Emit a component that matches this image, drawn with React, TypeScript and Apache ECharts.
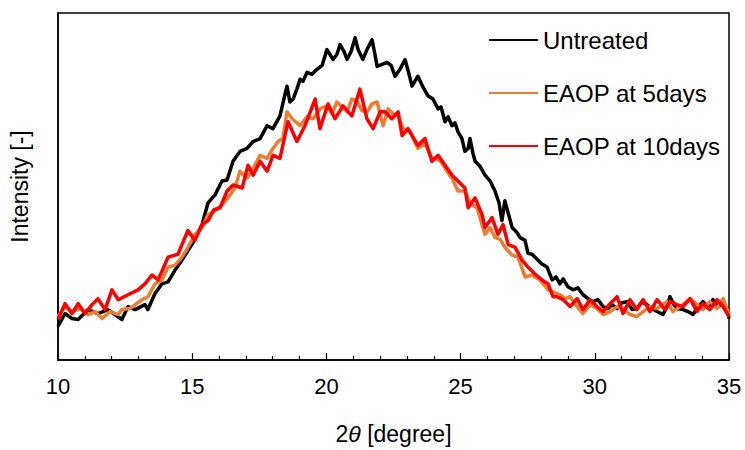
import React, { useEffect, useRef } from "react";
import * as echarts from "echarts";

// 2θ (degree) and intensity (arbitrary units)
const untreatedTheta = [10.00,10.26,10.52,10.75,11.12,11.49,11.86,12.12,12.38,12.61,12.87,13.24,13.35,13.61,13.87,14.10,14.36,14.62,14.99,15.37,15.59,15.85,16.11,16.30,16.52,16.78,17.04,17.27,17.53,17.79,18.01,18.27,18.53,18.64,18.76,18.90,19.02,19.13,19.28,19.46,19.65,19.84,20.02,20.25,20.39,20.51,20.66,20.77,20.92,21.07,21.18,21.36,21.51,21.70,21.81,21.89,22.07,22.26,22.41,22.56,22.74,22.93,23.08,23.19,23.30,23.41,23.60,23.79,23.97,24.16,24.27,24.42,24.53,24.68,24.79,24.90,25.05,25.16,25.28,25.35,25.46,25.54,25.72,25.91,26.10,26.28,26.43,26.54,26.65,26.77,26.92,27.10,27.21,27.40,27.51,27.66,27.85,28.03,28.22,28.41,28.55,28.70,28.82,29.00,29.19,29.37,29.56,29.75,29.93,30.12,30.31,30.49,30.64,30.83,31.01,31.20,31.39,31.57,31.76,31.94,32.13,32.32,32.54,32.69,32.80,32.95,33.06,33.29,33.47,33.66,33.85,34.03,34.22,34.40,34.59,34.78,34.93,35.00];
const untreatedIntensity = [34,47,42,41,51,47,51,46,41,54,51,56,51,67,77,79,91,101,117,137,159,167,181,182,201,211,214,221,224,237,234,247,277,261,264,274,284,282,291,289,294,298,314,304,309,319,312,304,312,326,314,304,314,324,309,297,299,301,298,287,294,304,289,277,282,287,276,267,264,254,256,241,246,237,240,231,224,211,214,224,209,201,196,187,181,171,159,141,161,149,134,129,124,121,108,107,102,97,94,81,84,77,82,74,71,73,66,62,59,61,54,52,56,52,58,59,51,52,59,56,52,49,46,54,64,56,52,51,49,46,54,59,54,61,54,57,52,42];

const eaop5Theta = [10.00,10.26,10.52,10.82,11.12,11.38,11.64,11.94,12.24,12.38,12.68,13.13,13.35,13.61,13.87,14.10,14.36,14.62,14.84,15.10,15.37,15.59,15.85,16.11,16.33,16.59,16.78,17.04,17.27,17.53,17.79,18.01,18.20,18.38,18.53,18.72,19.02,19.28,19.50,19.76,20.02,20.21,20.39,20.58,20.77,20.95,21.14,21.33,21.51,21.70,21.89,22.11,22.30,22.48,22.67,22.85,23.11,23.41,23.67,23.93,24.23,24.49,24.68,24.90,25.16,25.35,25.61,25.91,26.10,26.28,26.47,26.65,26.92,27.14,27.40,27.66,27.96,28.26,28.44,28.70,28.89,29.08,29.34,29.56,29.82,30.08,30.31,30.57,30.83,31.05,31.31,31.57,31.80,32.06,32.32,32.69,32.91,33.18,33.55,33.81,34.03,34.29,34.55,34.78,35.00];
const eaop5Intensity = [44,54,49,52,46,49,42,49,46,51,52,61,64,77,81,94,96,104,114,127,134,147,151,157,164,174,191,184,194,207,204,214,221,224,251,244,237,246,244,254,257,249,261,256,251,264,262,252,251,259,261,237,254,249,247,234,231,214,219,204,202,191,184,171,171,159,154,127,134,124,122,114,106,104,84,86,81,71,69,66,62,64,54,47,56,52,46,49,54,52,46,44,49,54,52,59,49,54,62,56,51,59,52,62,46];

const eaop10Theta = [10.00,10.26,10.52,10.75,11.01,11.27,11.49,11.75,12.01,12.24,12.61,12.98,13.24,13.50,13.73,14.10,14.47,14.84,15.10,15.37,15.59,15.81,16.04,16.30,16.52,16.86,17.08,17.27,17.53,17.79,18.01,18.27,18.57,18.90,19.20,19.58,19.76,20.06,20.32,20.62,20.95,21.25,21.51,21.74,22.00,22.18,22.44,22.67,22.82,23.04,23.41,23.67,23.93,24.16,24.42,24.68,24.90,25.16,25.28,25.54,25.80,25.91,26.17,26.39,26.58,26.77,27.03,27.29,27.51,27.77,28.03,28.26,28.44,28.59,28.82,29.08,29.34,29.56,29.82,30.08,30.31,30.57,30.83,31.05,31.31,31.57,31.80,32.06,32.32,32.62,32.80,33.06,33.29,33.55,33.81,34.03,34.29,34.55,34.78,35.00];
const eaop10Intensity = [41,57,47,57,47,56,62,51,71,61,66,71,77,86,81,104,107,131,121,137,141,152,154,171,177,174,197,187,201,191,207,204,241,221,237,264,234,259,244,257,247,274,244,234,251,251,244,251,227,234,217,224,201,207,197,187,181,174,154,164,147,134,144,127,137,117,114,101,94,87,81,77,64,64,61,54,62,51,61,54,49,57,64,47,61,51,61,49,61,51,59,56,54,62,49,57,51,61,54,44];

const xTicks = [10, 15, 20, 25, 30, 35];
const seriesNames = ["Untreated", "EAOP at 5days", "EAOP at 10days"];

const zip = (xs: number[], ys: number[]) => xs.map((x, i) => [x, ys[i]]);

export default function App() {
  const ref = useRef<HTMLDivElement>(null);
  useEffect(() => {
    if (!ref.current) return;
    const chart = echarts.init(ref.current, null, { renderer: "svg" });
    const font = "Arial, 'Liberation Sans', sans-serif";
    const mk = (name: string, data: number[][], color: string) => ({
      name,
      type: "line",
      data,
      symbol: "none",
      showSymbol: false,
      lineStyle: { color, width: 3.5, join: "round" },
      itemStyle: { color },
      smooth: false,
    });
    chart.setOption({
      animation: false,
      backgroundColor: "#fff",
      textStyle: { fontFamily: font },
      grid: {
        left: 58,
        right: 16,
        top: 13,
        bottom: 86,
        show: true,
        borderColor: "#000",
        borderWidth: 1.5,
        backgroundColor: "transparent",
      },
      legend: {
        orient: "vertical",
        left: 483,
        top: 23,
        padding: 5,
        itemWidth: 49,
        itemHeight: 24,
        itemGap: 29,
        itemTextGap: 4,
        itemStyle: { opacity: 0 },
        textStyle: { fontSize: 24, color: "#000", fontFamily: font },
        data: seriesNames,
      },
      xAxis: {
        type: "value",
        min: xTicks[0],
        max: xTicks[xTicks.length - 1],
        interval: 5,
        axisLine: { show: true, onZero: false, lineStyle: { color: "#000", width: 1.5 } },
        axisTick: { show: true, inside: true, length: 7, lineStyle: { color: "#000", width: 1.2 } },
        minorTick: { show: true, splitNumber: 5, length: 4, lineStyle: { color: "#000", width: 1.2 } },
        splitLine: { show: false },
        axisLabel: { fontSize: 22, color: "#000", margin: 15, fontFamily: font },
        name: "2{i|θ} [degree]",
        nameLocation: "middle",
        nameGap: 62,
        nameTextStyle: {
          fontSize: 23,
          color: "#000",
          fontFamily: font,
          rich: { i: { fontStyle: "italic", fontSize: 23, color: "#000", fontFamily: font } },
        },
      },
      yAxis: {
        type: "value",
        min: 0,
        max: 351,
        axisLine: { show: true, lineStyle: { color: "#000", width: 1.5 } },
        axisTick: { show: false },
        axisLabel: { show: false },
        splitLine: { show: false },
        name: "Intensity [-]",
        nameLocation: "middle",
        nameRotate: 90,
        nameGap: 27,
        nameTextStyle: { fontSize: 23, color: "#000", fontFamily: font },
      },
      series: [
        mk(seriesNames[0], zip(untreatedTheta, untreatedIntensity), "#000000"),
        mk(seriesNames[1], zip(eaop5Theta, eaop5Intensity), "#ED7D31"),
        mk(seriesNames[2], zip(eaop10Theta, eaop10Intensity), "#FF0000"),
      ],
    });
    return () => chart.dispose();
  }, []);
  return <div ref={ref} style={{ width: 745, height: 450, position: "absolute", left: 0, top: 0 }} />;
}
